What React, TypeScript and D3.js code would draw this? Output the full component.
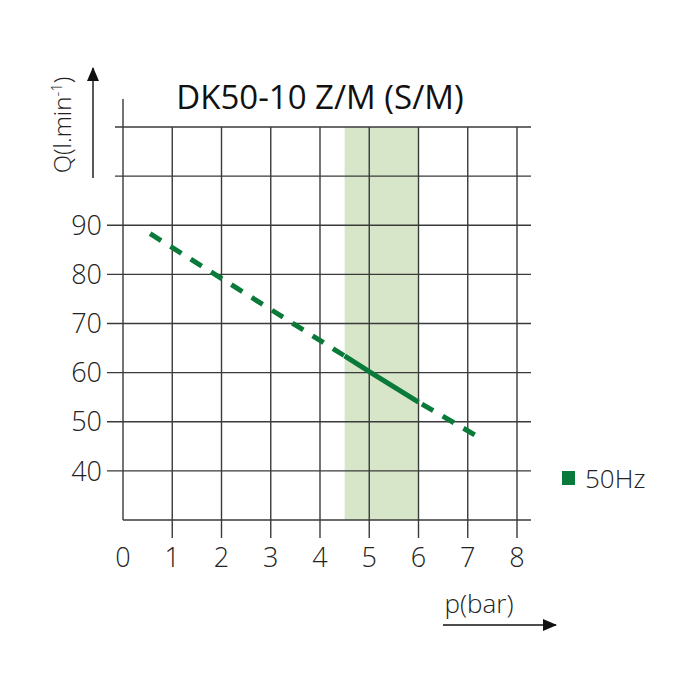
import * as d3 from "d3";

// pressure (bar) vs flow Q (l/min), 50Hz curve
const dashedStart: [number, number][] = [
  [0.55, 88.3],
  [4.5, 63.4],
];
const solidPart: [number, number][] = [
  [4.5, 63.4],
  [5, 60.2],
  [6, 54.0],
];
const dashedEnd: [number, number][] = [
  [6, 54.0],
  [7.2, 47.0],
];
const xTicks = [0, 1, 2, 3, 4, 5, 6, 7, 8];
const yLabelled = [40, 50, 60, 70, 80, 90];
const yUnlabelled = [100, 110];
const band = [4.5, 6];

const green = "#0a7a3a";
const gridColor = "#3a3a3a";
const font = "'Open Sans', 'DejaVu Sans', sans-serif";

export default function App() {
  const x = d3.scaleLinear().domain([0, 8]).range([123, 517]);
  const y = d3.scaleLinear().domain([30, 110]).range([520, 127]);
  const line = d3
    .line<[number, number]>()
    .x((d) => x(d[0]))
    .y((d) => y(d[1]));
  const right = 531;

  return (
    <svg
      width={700}
      height={700}
      style={{ position: "absolute", left: 0, top: 0, background: "#fff" }}
      fontFamily={font}
      fontWeight={300}
    >
      <defs>
        <marker
          id="arr"
          viewBox="0 0 14 12"
          refX="13"
          refY="6"
          markerWidth="14"
          markerHeight="12"
          markerUnits="userSpaceOnUse"
          orient="auto"
        >
          <path d="M0,0 L14,6 L0,12 z" fill="#111" />
        </marker>
      </defs>

      {/* shaded working range */}
      <rect
        x={x(band[0])}
        y={y(110)}
        width={x(band[1]) - x(band[0])}
        height={y(30) - y(110)}
        fill="#d7e6c9"
      />

      {/* horizontal grid */}
      {yLabelled.map((v) => (
        <line key={v} x1={107} x2={right} y1={y(v)} y2={y(v)} stroke={gridColor} strokeWidth={1.4} />
      ))}
      {yUnlabelled.map((v) => (
        <line key={v} x1={115} x2={right} y1={y(v)} y2={y(v)} stroke={gridColor} strokeWidth={1.4} />
      ))}
      <line x1={x(0)} x2={right} y1={y(30)} y2={y(30)} stroke={gridColor} strokeWidth={1.4} />

      {/* vertical grid */}
      {xTicks.slice(1).map((v) => (
        <line key={v} x1={x(v)} x2={x(v)} y1={y(110)} y2={538} stroke={gridColor} strokeWidth={1.4} />
      ))}
      <line x1={x(0)} x2={x(0)} y1={99} y2={y(30)} stroke={gridColor} strokeWidth={1.4} />

      {/* tick labels */}
      {yLabelled.map((v) => (
        <text key={v} x={102} y={y(v)} dy="0.36em" textAnchor="end" fontSize={27} fill="#222">
          {v}
        </text>
      ))}
      {xTicks.map((v) => (
        <text key={v} x={x(v)} y={557} dy="0.36em" textAnchor="middle" fontSize={27} fill="#222">
          {v}
        </text>
      ))}

      {/* curve */}
      <path d={line(dashedStart) ?? ""} fill="none" stroke={green} strokeWidth={5} strokeDasharray="13 11" />
      <path d={line(solidPart) ?? ""} fill="none" stroke={green} strokeWidth={5} />
      <path d={line(dashedEnd) ?? ""} fill="none" stroke={green} strokeWidth={5} strokeDasharray="13 11" strokeDashoffset={-4} />

      {/* title */}
      <text x={320} y={109} textAnchor="middle" fontSize={33} fontWeight={400} fill="#111">
        DK50-10 Z/M (S/M)
      </text>

      {/* y axis label + arrow */}
      <text transform="translate(71,125) rotate(-90)" textAnchor="middle" fontSize={24} fill="#222">
        Q(l.min<tspan dy="-9" fontSize={15}>-1</tspan>
        <tspan dy="9">)</tspan>
      </text>
      <line x1={93} x2={93} y1={178} y2={68} stroke="#111" strokeWidth={1.4} markerEnd="url(#arr)" />

      {/* x axis label + arrow */}
      <text x={479} y={613} textAnchor="middle" fontSize={26} fill="#222">
        p(bar)
      </text>
      <line x1={443} x2={556} y1={625} y2={625} stroke="#111" strokeWidth={1.4} markerEnd="url(#arr)" />

      {/* legend */}
      <rect x={562} y={471} width={13} height={14} fill={green} />
      <text x={585} y={479} dy="0.36em" fontSize={26} fill="#222">
        50Hz
      </text>
    </svg>
  );
}
